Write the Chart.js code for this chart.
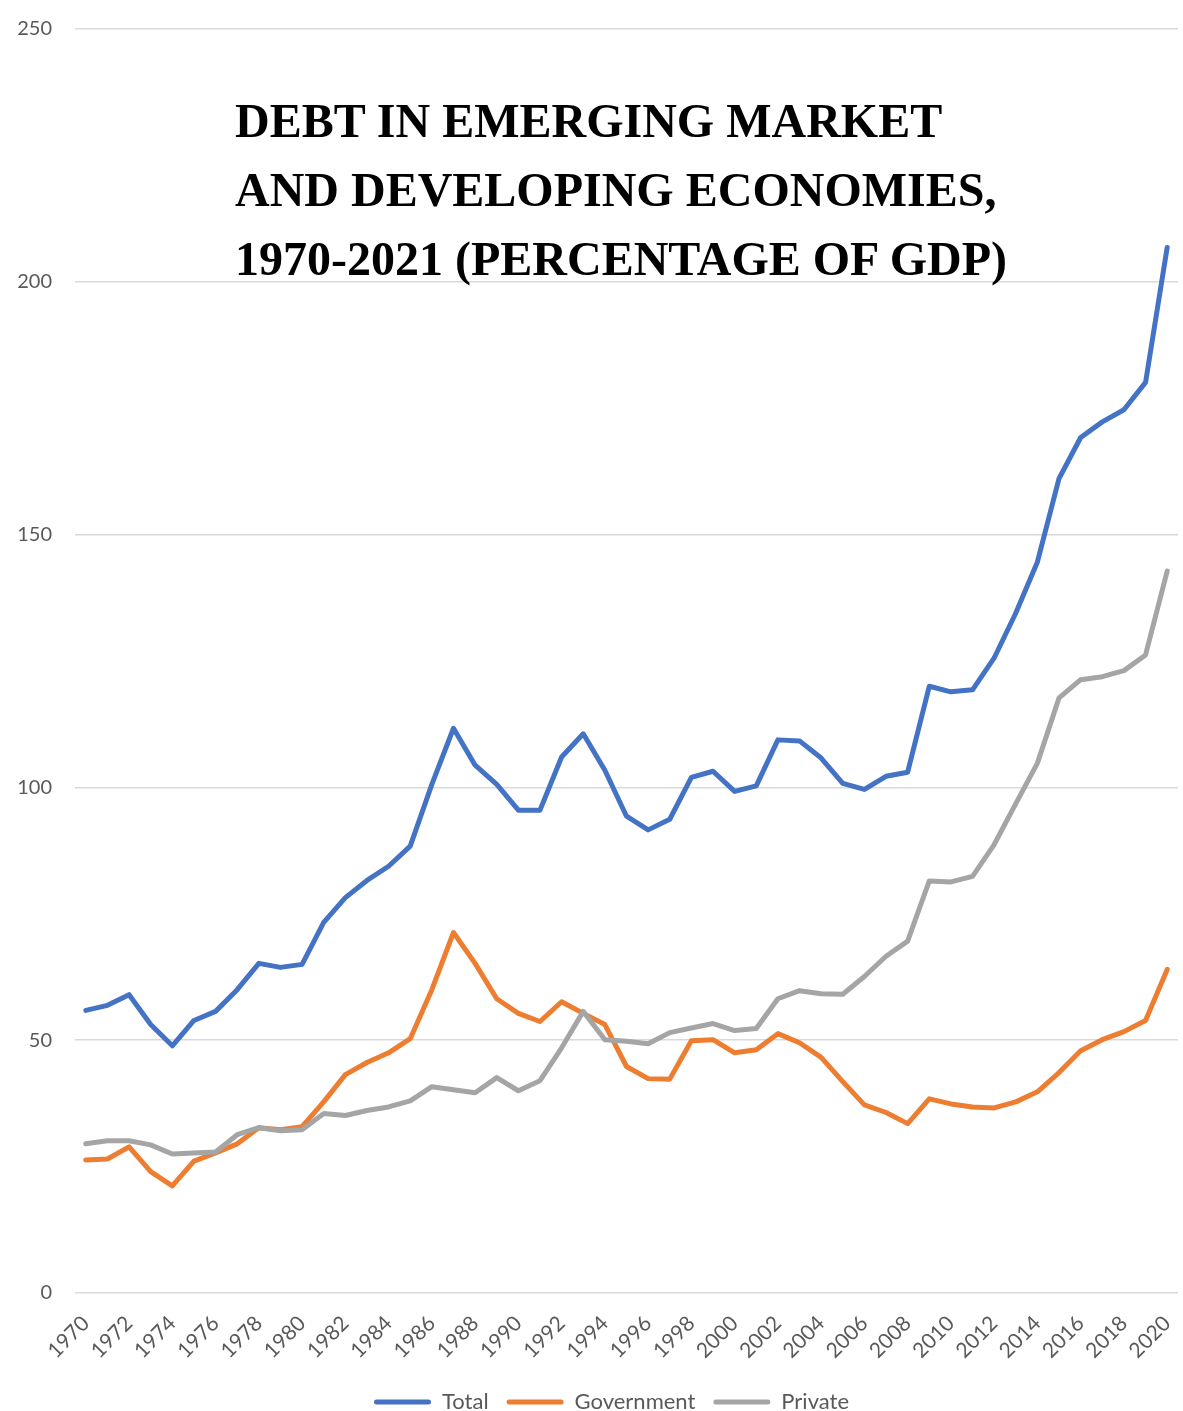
<!DOCTYPE html>
<html>
<head>
<meta charset="utf-8">
<script src="https://cdn.jsdelivr.net/npm/chart.js@4/dist/chart.umd.min.js"></script>
<style>
  html, body { margin: 0; padding: 0; background: #fff; }
  #wrap { position: relative; width: 1183px; height: 1411px; }
  #title {
    position: absolute; left: 235px; top: 86px;
    font-family: "Liberation Serif", "Times New Roman", serif;
    font-weight: bold; font-size: 48px; line-height: 69px;
    color: #000; white-space: pre; pointer-events: none;
  }
</style>
</head>
<body>
<div id="wrap">
  <canvas id="debtChart" width="1183" height="1411"></canvas>
  <div id="title">DEBT IN EMERGING MARKET
AND DEVELOPING ECONOMIES,
1970-2021 (PERCENTAGE OF GDP)</div>
</div>
<script>
// Years on the x axis
const years = [];
for (let y = 1970; y <= 2020; y++) years.push(String(y));

// Debt, percentage of GDP
const totalDebt = [
  55.9, 56.9, 59.0, 53.1, 48.9, 53.9, 55.7, 60.0, 65.2, 64.4,
  65.0, 73.3, 78.2, 81.6, 84.4, 88.4, 100.6, 111.7, 104.4, 100.6,
  95.5, 95.5, 106.0, 110.6, 103.4, 94.3, 91.6, 93.7, 102.0, 103.2,
  99.2, 100.3, 109.4, 109.2, 105.8, 100.8, 99.6, 102.2, 103.0, 120.0,
  118.9, 119.3, 125.6, 134.5, 144.6, 161.1, 169.2, 172.3, 174.7, 180.1,
  206.8
];
const governmentDebt = [
  26.3, 26.5, 28.9, 24.0, 21.2, 26.1, 27.7, 29.5, 32.7, 32.3,
  32.9, 37.8, 43.2, 45.6, 47.5, 50.3, 60.0, 71.3, 65.2, 58.2,
  55.3, 53.7, 57.6, 55.3, 53.1, 44.8, 42.4, 42.3, 49.9, 50.1,
  47.5, 48.1, 51.3, 49.5, 46.6, 41.8, 37.2, 35.7, 33.5, 38.4,
  37.4, 36.8, 36.6, 37.8, 39.8, 43.6, 47.9, 50.1, 51.7, 53.9,
  64.0
];
const privateDebt = [
  29.5, 30.1, 30.1, 29.3, 27.5, 27.7, 27.9, 31.3, 32.7, 32.1,
  32.3, 35.5, 35.1, 36.1, 36.8, 38.0, 40.8, 40.2, 39.6, 42.6,
  40.0, 42.0, 48.5, 55.7, 50.1, 49.8, 49.3, 51.5, 52.4, 53.3,
  51.9, 52.3, 58.2, 59.8, 59.2, 59.1, 62.6, 66.6, 69.6, 81.5,
  81.3, 82.4, 88.7, 96.8, 104.8, 117.7, 121.3, 121.9, 123.1, 126.2,
  142.8
];

const tickColor = '#595959';
const sansFamily = 'Lato, "Liberation Sans", sans-serif';

// nudge the legend a bit to the right, like the original
const legendShift = {
  id: 'legendShift',
  afterUpdate(chart) {
    if (chart.legend) chart.legend.left += 45;
  }
};

const ctx = document.getElementById('debtChart').getContext('2d');
new Chart(ctx, {
  type: 'line',
  data: {
    labels: years,
    datasets: [
      { label: 'Total', data: totalDebt, borderColor: '#4472C4', backgroundColor: '#4472C4', order: 2 },
      { label: 'Government', data: governmentDebt, borderColor: '#ED7D31', backgroundColor: '#ED7D31', order: 1 },
      { label: 'Private', data: privateDebt, borderColor: '#A5A5A5', backgroundColor: '#A5A5A5', order: 0 }
    ]
  },
  options: {
    responsive: false,
    animation: false,
    events: [],
    elements: {
      line: { borderWidth: 5, tension: 0, borderCapStyle: 'round', borderJoinStyle: 'round', fill: false },
      point: { radius: 0 }
    },
    layout: { padding: { top: 29, right: 5, left: 0, bottom: -12 } },
    scales: {
      x: {
        offset: true,
        grid: { display: false, drawTicks: false },
        border: { display: false },
        ticks: {
          autoSkip: false,
          minRotation: 45,
          maxRotation: 45,
          padding: 18,
          color: tickColor,
          font: { family: sansFamily, size: 21 },
          callback: function (val, i) {
            return i % 2 === 0 ? this.getLabelForValue(val) : '';
          }
        },
        afterFit: s => { s.height = 80; s.paddingLeft = 0; s.paddingRight = 0; }
      },
      y: {
        min: 0,
        max: 250,
        grid: { color: '#D9D9D9', lineWidth: 1.5, drawTicks: false },
        border: { display: false },
        ticks: { stepSize: 50, padding: 23, color: tickColor, font: { family: sansFamily, size: 20 } },
        afterFit: s => { s.width = 75; s.paddingTop = 0; s.paddingBottom = 0; }
      }
    },
    plugins: {
      title: { display: false },
      tooltip: { enabled: false },
      legend: {
        position: 'bottom',
        labels: {
          color: tickColor,
          font: { family: sansFamily, size: 22 },
          boxWidth: 57,
          boxHeight: 5,
          padding: 18,
          useBorderRadius: true,
          borderRadius: 2.5,
          sort: (a, b) => a.datasetIndex - b.datasetIndex,
          generateLabels: chart => {
            const items = Chart.defaults.plugins.legend.labels.generateLabels(chart);
            return items.map(it => Object.assign(it, { fillStyle: it.strokeStyle, lineWidth: 0 }));
          }
        }
      }
    }
  },
  plugins: [legendShift]
});
</script>
</body>
</html>
